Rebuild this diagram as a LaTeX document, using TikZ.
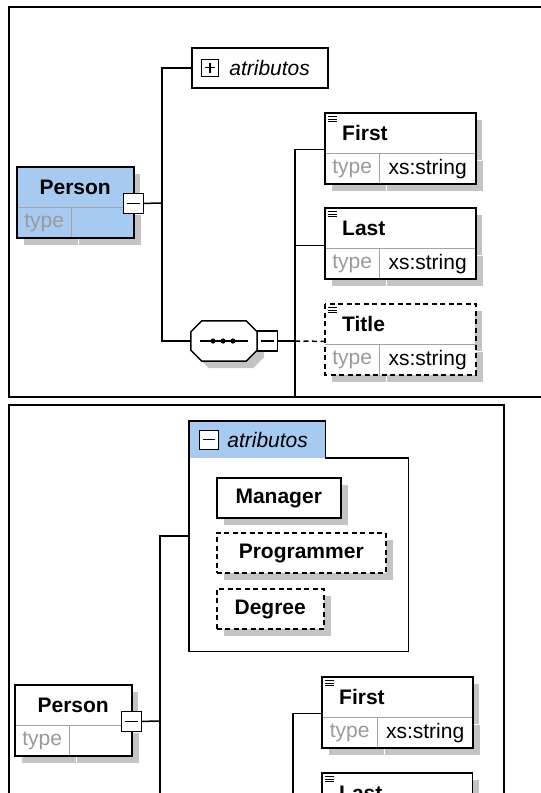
\documentclass[tikz,border=0pt]{standalone}
\usepackage{fontspec}
\setmainfont{Liberation Sans}
\usetikzlibrary{positioning,fit,shadows}
\definecolor{pblue}{HTML}{A6CAF0}
\definecolor{tgray}{HTML}{9A9A9A}
\definecolor{sgray}{HTML}{C4C4C4}
\newcommand\fsz{\fontsize{21}{25}\selectfont}
\tikzset{shdw/.style={drop shadow={shadow xshift=7pt,shadow yshift=-7pt,fill=sgray,opacity=1}},
frame/.style={line width=2pt},link/.style={line width=1.5pt},outl/.style={line width=1.5pt},
dsh/.style={dash pattern=on 5pt off 3.5pt},divline/.style={draw=tgray!90,line width=1pt},
head/.style={anchor=north west,fill=white,shdw,minimum height=40pt,inner sep=0pt,font={\fsz\bfseries}},
ehead/.style={head,text width=116pt,inner xsep=17pt,align=left},
cell/.style={anchor=north west,fill=white,shdw,minimum height=30pt,inner sep=0pt,text=tgray},
tag/.style={anchor=north west,draw,outl,fill=white,shdw,minimum height=40pt,inner sep=0pt,text height=15pt,text depth=3pt,font={\fsz\bfseries}},
btn/.style={draw,fill=white,line width=1.3pt,minimum size=20pt,inner sep=0pt,path picture={\draw[line width=1.4pt] ([xshift=3.5pt]path picture bounding box.west) -- ([xshift=-3.5pt]path picture bounding box.east);}},
pbtn/.style={draw,fill=white,line width=1.3pt,minimum size=20pt,inner sep=0pt,path picture={\draw[line width=1.4pt] ([xshift=3.5pt]path picture bounding box.west) -- ([xshift=-3.5pt]path picture bounding box.east) ([yshift=-3.5pt]path picture bounding box.north) -- ([yshift=3.5pt]path picture bounding box.south);}},
seqbox/.style={minimum width=66pt,minimum height=40pt,inner sep=0pt},
lbl/.style={font={\fsz\itshape},inner sep=3pt}}
\begin{document}
\begin{tikzpicture}[x=1pt,y=-1pt,font=\fsz]
\clip (0,0) rectangle (541,793);
\draw[frame] (9,7) rectangle (560,397);
\node[anchor=north west,draw,outl,fill=white,minimum width=136pt,minimum height=40pt] (attr) at (191,47) {};
\node[pbtn,minimum size=17pt] (aplus) at ([xshift=19pt]attr.west) {};
\node[lbl,right=7pt of aplus] (atxt) {atributos};
\node[head,fill=pblue,minimum width=116pt] (person) at (17,167) {Person};
\node[cell,fill=pblue,minimum width=54pt] (persont) at (person.south west) {type};
\node[cell,fill=pblue,minimum width=62pt] (personv) at (persont.north east) {};
\draw[divline] (persont.north west) -- (personv.north east) (persont.north east) -- (persont.south east);
\draw[outl] (person.north west) rectangle (personv.south east);
\node[btn] (pminus) at ([yshift=4pt]person.south east) {};
\node[seqbox] (seq) at (224,341) {};
\draw[outl,fill=white,shdw] ([xshift=11pt]seq.north west) -- ([xshift=-11pt]seq.north east) -- ([yshift=-11pt]seq.north east) -- ([yshift=11pt]seq.south east) -- ([xshift=-11pt]seq.south east) -- ([xshift=11pt]seq.south west) -- ([yshift=11pt]seq.south west) -- ([yshift=-11pt]seq.north west) -- cycle;
\draw[link] ([xshift=9pt]seq.west) -- ([xshift=-9pt]seq.east);
\foreach \d in {-11,-1,9} \fill ([xshift=\d pt]seq.center) circle (2.6pt);
\node[btn] (sminus) at ([xshift=10pt]seq.east) {};
\node[ehead] (first) at (325,113) {First};
\node[cell,minimum width=54pt] (firstt) at (first.south west) {type};
\node[cell,text=black,minimum width=96pt] (firstv) at (firstt.north east) {xs:string};
\node[ehead] (last) at (325,208) {Last};
\node[cell,minimum width=54pt] (lastt) at (last.south west) {type};
\node[cell,text=black,minimum width=96pt] (lastv) at (lastt.north east) {xs:string};
\node[ehead] (title) at (325,304) {Title};
\node[cell,minimum width=54pt] (titlet) at (title.south west) {type};
\node[cell,text=black,minimum width=96pt] (titlev) at (titlet.north east) {xs:string};
\foreach \n in {first,last,title} {
  \draw[divline] (\n t.north west) -- (\n v.north east) (\n t.north east) -- (\n t.south east);
  \foreach \k in {0,1,2} \draw[line width=0.9pt] ([shift={(3pt,-3.5pt-\k*2.7pt)}]\n.north west) -- ++(9,0);
}
\draw[outl] (first.north west) rectangle (firstv.south east);
\draw[outl] (last.north west) rectangle (lastv.south east);
\draw[outl,dsh] (title.north west) rectangle (titlev.south east);
\coordinate (tj) at (162,203); \coordinate (sj) at (295,341); \coordinate (send) at (295,397);
\draw[link] (pminus.east) -- (tj); \draw[link] (attr.west) -| (tj) |- (seq.west);
\draw[link] (sminus.east) -- (sj); \draw[link] ([yshift=4pt]first.south west) -| (send);
\draw[link] ([yshift=3pt]last.south west) -- ([yshift=3pt]last.south west -| sj);
\draw[link,dsh] (sj) -- ([yshift=3pt]title.south west);
\draw[frame] (9,405) rectangle (504,810);
\node[anchor=north west,fill=pblue,minimum width=136pt,minimum height=37pt,inner sep=0pt] (tab) at (189,421) {};
\node[anchor=north west,minimum width=219pt,minimum height=193pt,inner sep=0pt] (body) at (189,458) {};
\node[fit=(tab)(body),inner sep=0pt] (grp) {};
\draw[outl] (tab.south west) |- (tab.north east) |- (body.north east) |- (body.south west) -- cycle;
\node[btn,minimum size=19pt] (gminus) at ([xshift=20pt]tab.west) {};
\node[lbl,right=5pt of gminus] (gtxt) {atributos};
\node[tag,minimum width=124pt] (manager) at (216,477) {Manager};
\node[tag,dsh,minimum width=169pt] (programmer) at (216,532) {Programmer};
\node[tag,dsh,minimum width=107pt] (degree) at (216,588) {Degree};
\node[head,minimum width=116pt] (person2) at (15,685) {Person};
\node[cell,minimum width=54pt] (person2t) at (person2.south west) {type};
\node[cell,minimum width=62pt] (person2v) at (person2t.north east) {};
\draw[divline] (person2t.north west) -- (person2v.north east) (person2t.north east) -- (person2t.south east);
\draw[outl] (person2.north west) rectangle (person2v.south east);
\node[btn] (p2minus) at ([yshift=4pt]person2.south east) {};
\node[ehead] (first2) at (322,677) {First};
\node[cell,minimum width=55pt] (first2t) at (first2.south west) {type};
\node[cell,text=black,minimum width=95pt] (first2v) at (first2t.north east) {xs:string};
\node[ehead,text height=15pt,text depth=0pt] (last2) at (322,773) {Last};
\draw[divline] (first2t.north west) -- (first2v.north east) (first2t.north east) -- (first2t.south east);
\foreach \n in {first2,last2} \foreach \k in {0,1,2} \draw[line width=0.9pt] ([shift={(3pt,-3.5pt-\k*2.7pt)}]\n.north west) -- ++(9,0);
\draw[outl] (first2.north west) rectangle (first2v.south east);
\draw[outl] (last2.south west) |- (last2.north east) -- (last2.south east);
\coordinate (bj) at (160,721); \coordinate (bend) at (160,800); \coordinate (b2end) at (293,800);
\draw[link] (p2minus.east) -- (bj); \draw[link] (grp.west) -| (bend);
\draw[link] ([yshift=4pt]first2.south west) -| (b2end);
\end{tikzpicture}
\end{document}
